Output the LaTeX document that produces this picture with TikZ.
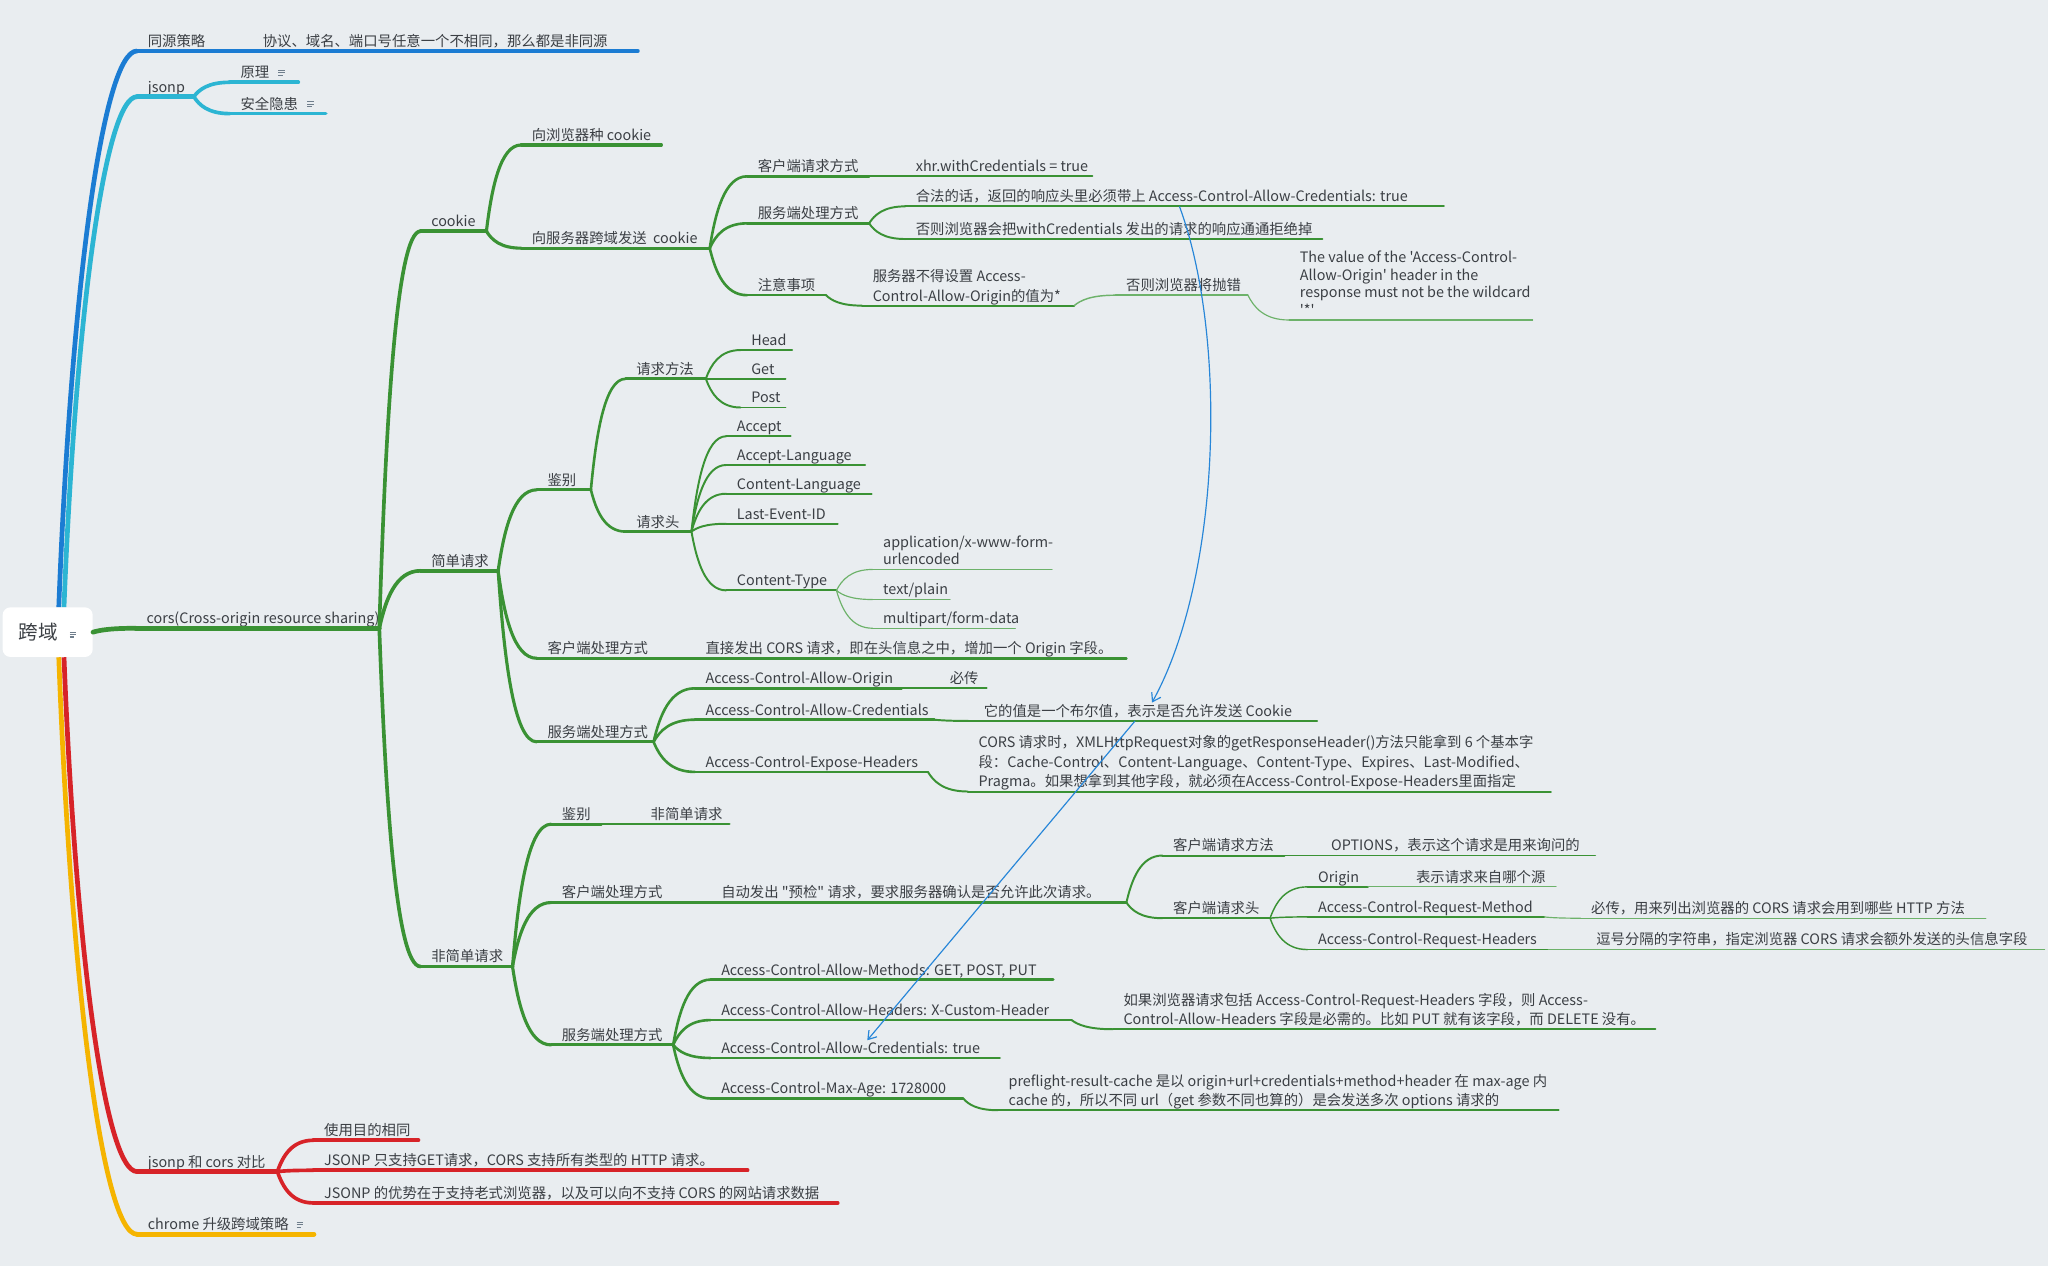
\documentclass[tikz,border=0pt]{standalone}
\usepackage{fontspec}
\usetikzlibrary{calc,arrows.meta}
\newfontfamily\cjk{Noto Sans CJK SC}

\definecolor{bgc}{HTML}{E9EDF0}
\definecolor{cblue}{HTML}{1B7CD3}
\definecolor{ccyan}{HTML}{2CB5D3}
\definecolor{cgreen}{HTML}{3A9234}
\definecolor{cgreenl}{HTML}{6DB26A}
\definecolor{cred}{HTML}{D72328}
\definecolor{cyel}{HTML}{F5B400}
\definecolor{ctext}{HTML}{3B3F44}
\definecolor{carrow}{HTML}{2786D8}
\definecolor{iconc}{HTML}{6F7E8C}

% small note marker: three bars, the last one shorter
\newcommand\noteicon{\raisebox{1.5pt}{\color{iconc}\vbox{\hrule width 5pt height 0.9pt\vskip 0.9pt
  \hrule width 5pt height 0.9pt\vskip 0.9pt\hrule width 3.5pt height 0.9pt}}}
% multi-line labels
\newcommand\mls[1]{\begin{tabular}[b]{@{}l@{}}#1\end{tabular}}
\newcommand\mlt[1]{{\fontsize{11}{13.5}\selectfont\begin{tabular}[b]{@{}l@{}}#1\end{tabular}}}
% topic: line style, name, x, y of underline start, x of underline end, options, text
\newcommand\mapnode[7]{%
  \node[mn,#6] (#2) at (#3,#4) {\makebox[\dimexpr #5pt-#3pt-16pt\relax][l]{#7}};
  \draw[#1] (#2.south west) -- (#2.south east);}

\tikzset{
  mn/.style={anchor=south west, inner xsep=8pt, inner ysep=1.1pt, text depth=2.2pt,
    font=\cjk\fontsize{11}{15}\selectfont, text=ctext},
  ln/.style={line cap=round, line join=round},
  B4/.style={ln, draw=cblue, line width=3.6pt},
  B3/.style={ln, draw=cblue, line width=2.8pt},
  C4/.style={ln, draw=ccyan, line width=3.6pt},
  C3/.style={ln, draw=ccyan, line width=2.8pt},
  R4/.style={ln, draw=cred, line width=3.6pt},
  R3/.style={ln, draw=cred, line width=2.8pt},
  Y4/.style={ln, draw=cyel, line width=3.6pt},
  G4/.style={ln, draw=cgreen, line width=3.6pt},
  G3/.style={ln, draw=cgreen, line width=2.8pt},
  G25/.style={ln, draw=cgreen, line width=2.4pt},
  G2/.style={ln, draw=cgreen, line width=2.0pt},
  G15/.style={ln, draw=cgreen, line width=1.5pt},
  G11/.style={ln, draw=cgreen, line width=1.1pt},
  GL11/.style={ln, draw=cgreenl, line width=1.1pt},
  GL1/.style={ln, draw=cgreenl, line width=0.9pt},
  cv/.style={to path={let \p1=(\tikztostart), \p2=(\tikztotarget) in
    .. controls ({\x1+0.15*(\x2-\x1)},{\y1+0.5*(\y2-\y1)}) and ({\x1+0.4*(\x2-\x1)},{\y2}) .. (\tikztotarget) \tikztonodes}},
  cvr/.style={line cap=butt, to path={let \p1=(\tikztostart), \p2=(\tikztotarget) in
    .. controls ({\x1+0.15*(\x2-\x1)},{\y1+0.55*(\y2-\y1)}) and ({\x1+0.55*(\x2-\x1)},{\y2}) .. (\tikztotarget) \tikztonodes}},
  arrowc/.style={draw=carrow, line width=0.9pt, -{Straight Barb[length=6pt,width=8pt]}}
}

\begin{document}
\begin{tikzpicture}[x=1pt,y=-1pt]
\useasboundingbox (0,0) rectangle (1568,969);
\fill[bgc] (0,0) rectangle (1568,969);

% central topic
\node[fill=white, rounded corners=6pt, minimum width=69pt, minimum height=38pt, inner sep=0pt,
  font=\cjk\fontsize{15}{15}\selectfont, text=ctext] (root) at (36.5,484) {跨域\hspace{9pt}\noteicon};

% same-origin policy
\mapnode{B4}{tyc}{105}{39}{163}{}{同源策略}
\mapnode{B3}{tycd}{193}{39}{488}{}{协议、域名、端口号任意一个不相同，那么都是非同源}

% jsonp
\mapnode{C4}{jsonp}{105}{74}{148}{}{jsonp}
\mapnode{C3}{yl}{176}{63}{228}{}{原理\hspace{7pt}\noteicon}
\mapnode{C3}{aq}{176}{87}{249}{}{安全隐患\hspace{7pt}\noteicon}

% cors
\mapnode{G4}{cors}{104}{481}{290}{}{cors(Cross-origin resource sharing)}
\mapnode{G3}{cookie}{322}{177}{372}{}{cookie}
\mapnode{G25}{zcook}{399}{111}{506}{}{向浏览器种 cookie}
\mapnode{G25}{fcook}{399}{190}{543}{}{向服务器跨域发送\ \ cookie}
\mapnode{G2}{khq}{572}{135}{665}{}{客户端请求方式}
\mapnode{G15}{xhr}{693}{135}{836}{}{xhr.withCredentials = true}
\mapnode{G2}{fwc}{572}{171}{665}{}{服务端处理方式}
\mapnode{G15}{hf}{693}{158}{1105}{}{合法的话，返回的响应头里必须带上 Access-Control-Allow-Credentials: true}
\mapnode{G15}{fz}{693}{183}{1012}{}{否则浏览器会把withCredentials 发出的请求的响应通通拒绝掉}
\mapnode{G2}{zysx}{572}{226}{632}{}{注意事项}
\mapnode{G15}{bdsz}{660}{234}{822}{}{\mls{服务器不得设置 Access-\\Control-Allow-Origin的值为*}}
\mapnode{GL11}{pc}{854}{226}{955}{}{否则浏览器将抛错}
\mapnode{GL1}{tv}{987}{245}{1173}{}{\mlt{The value of the 'Access-Control-\\Allow-Origin' header in the\\response must not be the wildcard\\'*'}}

% simple requests
\mapnode{G3}{jd}{322}{437}{381}{}{简单请求}
\mapnode{G25}{jb}{411}{375}{452}{}{鉴别}
\mapnode{G2}{qqff}{479}{290}{540}{}{请求方法}
\mapnode{G15}{head}{567}{268}{606}{}{Head}
\mapnode{G15}{get}{567}{290}{601}{}{Get}
\mapnode{G15}{post}{567}{312}{601}{}{Post}
\mapnode{G2}{qqt}{479}{407}{529}{}{请求头}
\mapnode{G15}{acc}{556}{334}{605}{}{Accept}
\mapnode{G15}{accl}{556}{356}{662}{}{Accept-Language}
\mapnode{G15}{conl}{556}{378}{667}{}{Content-Language}
\mapnode{G15}{lei}{556}{401}{641}{}{Last-Event-ID}
\mapnode{G15}{ctype}{556}{452}{640}{}{Content-Type}
\mapnode{GL1}{axw}{668}{436}{805}{}{\mlt{application/x-www-form-\\urlencoded}}
\mapnode{GL1}{tpl}{668}{459}{727}{}{text/plain}
\mapnode{GL1}{mfd}{668}{481}{777}{}{multipart/form-data}
\mapnode{G25}{khcl}{411}{504}{500}{}{客户端处理方式}
\mapnode{G2}{zjfc}{532}{504}{862}{}{直接发出 CORS 请求，即在头信息之中，增加一个 Origin 字段。}
\mapnode{G25}{fwcl}{411}{568}{500}{}{服务端处理方式}
\mapnode{G2}{acao}{532}{527}{690}{}{Access-Control-Allow-Origin}
\mapnode{G15}{bc}{719}{527}{755}{}{必传}
\mapnode{G2}{acac}{532}{551}{715}{}{Access-Control-Allow-Credentials}
\mapnode{G15}{boolv}{745}{552}{1008}{}{它的值是一个布尔值，表示是否允许发送 Cookie}
\mapnode{G2}{aceh}{532}{591}{710}{}{Access-Control-Expose-Headers}
\mapnode{G15}{six}{741}{606}{1187}{}{\mls{CORS 请求时，XMLHttpRequest对象的getResponseHeader()方法只能拿到 6 个基本字\\段：Cache-Control、Content-Language、Content-Type、Expires、Last-Modified、\\Pragma。如果想拿到其他字段，就必须在Access-Control-Expose-Headers里面指定}}

% non-simple requests
\mapnode{G3}{fjd}{322}{740}{392}{}{非简单请求}
\mapnode{G25}{jb2}{422}{631}{460}{}{鉴别}
\mapnode{G2}{fjd2}{490}{631}{558}{}{非简单请求}
\mapnode{G25}{khcl2}{422}{691}{515}{}{客户端处理方式}
\mapnode{G2}{zdfc}{544}{691}{862}{}{自动发出 "预检" 请求，要求服务器确认是否允许此次请求。}
\mapnode{G15}{khqf}{890}{655}{983}{}{客户端请求方法}
\mapnode{G11}{opt}{1011}{655}{1221}{}{OPTIONS，表示这个请求是用来询问的}
\mapnode{G15}{khqt}{890}{703}{972}{}{客户端请求头}
\mapnode{G11}{orig}{1001}{679}{1047}{}{Origin}
\mapnode{GL1}{lyz}{1076}{679}{1191}{}{表示请求来自哪个源}
\mapnode{G11}{acrm}{1001}{702}{1182}{}{Access-Control-Request-Method}
\mapnode{GL1}{bcyl}{1210}{703}{1520}{}{必传，用来列出浏览器的 CORS 请求会用到哪些 HTTP 方法}
\mapnode{G11}{acrh}{1001}{727}{1185}{}{Access-Control-Request-Headers}
\mapnode{GL1}{dhfg}{1214}{727}{1565}{}{逗号分隔的字符串，指定浏览器 CORS 请求会额外发送的头信息字段}
\mapnode{G25}{fwcl2}{422}{800}{515}{}{服务端处理方式}
\mapnode{G2}{acam}{544}{750}{806}{}{Access-Control-Allow-Methods: GET, POST, PUT}
\mapnode{G2}{acah}{544}{781}{820}{}{Access-Control-Allow-Headers: X-Custom-Header}
\mapnode{G15}{rgll}{852}{788}{1267}{}{\mls{如果浏览器请求包括 Access-Control-Request-Headers 字段，则 Access-\\Control-Allow-Headers 字段是必需的。比如 PUT 就有该字段，而 DELETE 没有。}}
\mapnode{G2}{acac2}{544}{810}{765}{}{Access-Control-Allow-Credentials: true}
\mapnode{G2}{acma}{544}{841}{737}{}{Access-Control-Max-Age: 1728000}
\mapnode{G15}{pfrc}{764}{850}{1193}{}{\mls{preflight-result-cache 是以 origin+url+credentials+method+header 在 max-age 内\\cache 的，所以不同 url（get 参数不同也算的）是会发送多次 options 请求的}}

% comparison
\mapnode{R4}{db}{105}{897}{212}{}{jsonp 和 cors 对比}
\mapnode{R3}{symd}{240}{873}{320}{}{使用目的相同}
\mapnode{R3}{jzc}{240}{896}{572}{}{JSONP 只支持GET请求，CORS 支持所有类型的 HTTP 请求。}
\mapnode{R3}{jys}{240}{921}{641}{}{JSONP 的优势在于支持老式浏览器，以及可以向不支持 CORS 的网站请求数据}

% chrome
\mapnode{Y4}{chr}{105}{945}{240}{}{chrome 升级跨域策略\hspace{6pt}\noteicon}

% branches from the central topic
\draw[B4,cvr] ([xshift=8.5pt]root.north) to (tyc.south west);
\draw[C4,cvr] ([xshift=12.5pt]root.north) to (jsonp.south west);
\draw[G4] (root.east) to[cv] (cors.south west);
\draw[R4,cvr] ([xshift=12.5pt]root.south) to (db.south west);
\draw[Y4,cvr] ([xshift=8.5pt]root.south) to (chr.south west);

% connectors
\draw[B3] (tyc.south east) to[cv] (tycd.south west);
\foreach \c in {yl,aq} \draw[C3] (jsonp.south east) to[cv] (\c.south west);
\foreach \c in {cookie,jd,fjd} \draw[G3] (cors.south east) to[cv] (\c.south west);
\foreach \c in {zcook,fcook} \draw[G25] (cookie.south east) to[cv] (\c.south west);
\foreach \c in {khq,fwc,zysx} \draw[G2] (fcook.south east) to[cv] (\c.south west);
\draw[G15] (khq.south east) to[cv] (xhr.south west);
\foreach \c in {hf,fz} \draw[G15] (fwc.south east) to[cv] (\c.south west);
\draw[G15] (zysx.south east) to[cv] (bdsz.south west);
\draw[GL11] (bdsz.south east) to[cv] (pc.south west);
\draw[GL1] (pc.south east) to[cv] (tv.south west);

\foreach \c in {jb,khcl,fwcl} \draw[G25] (jd.south east) to[cv] (\c.south west);
\foreach \c in {qqff,qqt} \draw[G2] (jb.south east) to[cv] (\c.south west);
\foreach \c in {head,get,post} \draw[G15] (qqff.south east) to[cv] (\c.south west);
\foreach \c in {acc,accl,conl,lei,ctype} \draw[G15] (qqt.south east) to[cv] (\c.south west);
\foreach \c in {axw,tpl,mfd} \draw[GL1] (ctype.south east) to[cv] (\c.south west);
\draw[G2] (khcl.south east) to[cv] (zjfc.south west);
\foreach \c in {acao,acac,aceh} \draw[G2] (fwcl.south east) to[cv] (\c.south west);
\draw[G15] (acao.south east) to[cv] (bc.south west);
\draw[G15] (acac.south east) to[cv] (boolv.south west);
\draw[G15] (aceh.south east) to[cv] (six.south west);

\foreach \c in {jb2,khcl2,fwcl2} \draw[G25] (fjd.south east) to[cv] (\c.south west);
\draw[G2] (jb2.south east) to[cv] (fjd2.south west);
\draw[G2] (khcl2.south east) to[cv] (zdfc.south west);
\foreach \c in {khqf,khqt} \draw[G15] (zdfc.south east) to[cv] (\c.south west);
\draw[G11] (khqf.south east) to[cv] (opt.south west);
\foreach \c in {orig,acrm,acrh} \draw[G11] (khqt.south east) to[cv] (\c.south west);
\draw[GL1] (orig.south east) to[cv] (lyz.south west);
\draw[GL1] (acrm.south east) to[cv] (bcyl.south west);
\draw[GL1] (acrh.south east) to[cv] (dhfg.south west);
\foreach \c in {acam,acah,acac2,acma} \draw[G2] (fwcl2.south east) to[cv] (\c.south west);
\draw[G15] (acah.south east) to[cv] (rgll.south west);
\draw[G15] (acma.south east) to[cv] (pfrc.south west);

\foreach \c in {symd,jzc,jys} \draw[R3] (db.south east) to[cv] (\c.south west);

% relation arrows
\draw[arrowc] ([xshift=210pt]hf.south west) .. controls +(37,100) and +(53,-96) .. ([xshift=137pt]boolv.north west);
\draw[arrowc] ([xshift=124pt]boolv.south west) -- ([xshift=120pt]acac2.north west);
\end{tikzpicture}
\end{document}
